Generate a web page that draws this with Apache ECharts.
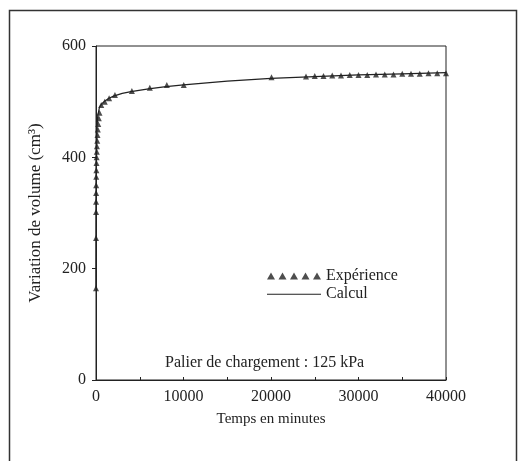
<!DOCTYPE html>
<html>
<head>
<meta charset="utf-8">
<script src="https://cdn.jsdelivr.net/npm/echarts@6/dist/echarts.min.js"></script>
<style>html,body{margin:0;padding:0;background:#fff}#c{width:521px;height:461px}</style>
</head>
<body>
<div id="c"></div>
<script>
var expTimes = [2,4,7,10,15,20,30,40,55,70,90,110,140,170,210,260,320,400,600,1000,1500,2165,4100,6150,8090,10030,20060,24000,25000,26000,27000,28000,29000,30000,31000,32000,33000,34000,35000,36000,37000,38000,39000,40000];
var expValues = [165,255,302,320,336,350,365,377,390,400,410,420,430,440,450,460,470,480,494,500,506,512,519,525,530,530,544,545,546,546,547,547,548,548,548,549,549,549,550,550,550,551,551,551];
var calcTimes = [0,20,50,100,200,400,700,1000,1500,2000,3000,4000,6000,8000,10000,15000,20000,25000,30000,35000,40000];
var calcValues = [165,330,400,450,475,490,497,501,506,510,515,518,523,527,530,537,542,545,548,550,552];
var xTicks = [0,10000,20000,30000,40000];
var yTicks = [0,200,400,600];

var expData = expTimes.map(function(t,i){return [t, expValues[i]];});
var calcData = calcTimes.map(function(t,i){return [t, calcValues[i]];});
var serif = 'Liberation Serif';
var triIcon = 'path://M0,7L4,0L8,7Z M11.5,7L15.5,0L19.5,7Z M23,7L27,0L31,7Z M34.5,7L38.5,0L42.5,7Z M46,7L50,0L54,7Z';
var lineIcon = 'path://M0,0L0.01,0M0,7L0.01,7M0,3.2L54,3.2L54,4.2L0,4.2Z';

var chart = echarts.init(document.getElementById('c'));
chart.setOption({
  animation: false,
  backgroundColor: '#fff',
  grid: {left: 96, right: 75, top: 46, bottom: 81, show: true, borderColor: '#222', borderWidth: 1, backgroundColor: 'transparent'},
  xAxis: {
    type: 'value', min: xTicks[0], max: xTicks[xTicks.length-1], interval: 10000,
    name: 'Temps en minutes', nameLocation: 'middle', nameGap: 32,
    nameTextStyle: {fontFamily: serif, fontSize: 15, color: '#222'},
    axisLine: {show: true, lineStyle: {color: '#222', width: 1}},
    axisTick: {show: true, inside: true, length: 3, lineStyle: {color: '#222'}},
    minorTick: {show: true, splitNumber: 2, length: 3, lineStyle: {color: '#222'}},
    splitLine: {show: false},
    axisLabel: {fontFamily: serif, fontSize: 16, color: '#222', margin: 9, formatter: function(v){return String(v);}}
  },
  yAxis: {
    type: 'value', min: yTicks[0], max: yTicks[yTicks.length-1], interval: 200,
    name: 'Variation de volume (cm³)', nameLocation: 'middle', nameGap: 52, nameRotate: 90,
    nameTextStyle: {fontFamily: serif, fontSize: 17, color: '#222'},
    axisLine: {show: true, lineStyle: {color: '#222', width: 1}},
    axisTick: {show: true, inside: false, length: 4, lineStyle: {color: '#222'}},
    splitLine: {show: false},
    axisLabel: {fontFamily: serif, fontSize: 16, color: '#222', margin: 10, formatter: function(v){return String(v);}}
  },
  legend: {
    orient: 'vertical', left: 262, top: 263, itemWidth: 54, itemHeight: 7, itemGap: 2,
    textStyle: {fontFamily: serif, fontSize: 16, color: '#222'},
    data: [{name: 'Expérience', icon: triIcon}, {name: 'Calcul', icon: lineIcon}]
  },
  series: [
    {name: 'Calcul', type: 'line', data: calcData, symbol: 'none', showSymbol: false,
     lineStyle: {color: '#222', width: 1.2}, itemStyle: {color: '#222'}, z: 2},
    {name: 'Expérience', type: 'scatter', data: expData, symbol: 'triangle', symbolSize: 6,
     itemStyle: {color: '#222'}, z: 3}
  ],
  graphic: [
    {type: 'rect', left: 7, top: 8, shape: {width: 507, height: 470}, style: {fill: 'none', stroke: '#333', lineWidth: 1.5}, silent: true},
    {type: 'text', left: 165, top: 355, style: {text: 'Palier de chargement : 125 kPa', fontFamily: serif, fontSize: 16, fill: '#222'}}
  ]
});
</script>
</body>
</html>
